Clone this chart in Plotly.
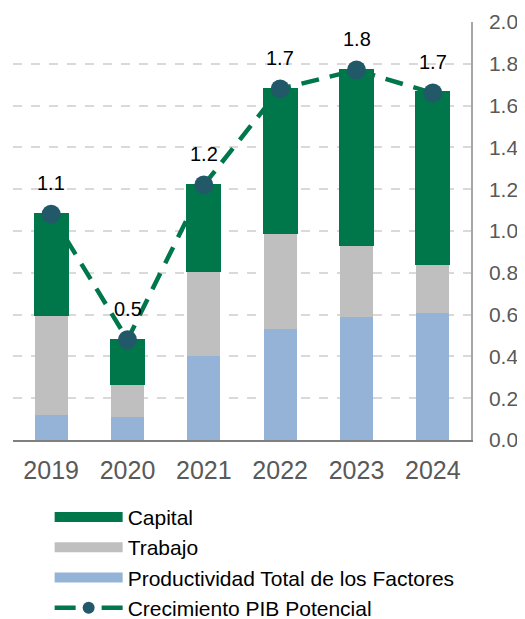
import plotly.graph_objects as go

years = ["2019", "2020", "2021", "2022", "2023", "2024"]
ptf = [0.12, 0.11, 0.40, 0.53, 0.59, 0.61]
trabajo = [0.48, 0.16, 0.41, 0.46, 0.345, 0.23]
capital = [0.48, 0.21, 0.41, 0.69, 0.835, 0.825]
pib = [1.08, 0.48, 1.22, 1.68, 1.77, 1.66]
pib_labels = [f"{v:.1f}" for v in pib]

GREEN = "#00774A"
GRAY = "#BFBFBF"
BLUE = "#95B3D7"
MARK = "#215968"
FONT = "Liberation Sans, Arial, sans-serif"

xpos = list(range(len(years)))

fig = go.Figure()
fig.add_trace(go.Bar(x=xpos, y=ptf, name="Productividad Total de los Factores",
                     marker=dict(color=BLUE, line=dict(width=0)), showlegend=False))
fig.add_trace(go.Bar(x=xpos, y=trabajo, name="Trabajo",
                     marker=dict(color=GRAY, line=dict(width=0)), showlegend=False))
fig.add_trace(go.Bar(x=xpos, y=capital, name="Capital",
                     marker=dict(color=GREEN, line=dict(color=GREEN, width=2)), showlegend=False))
fig.add_trace(go.Scatter(x=xpos, y=pib, name="Crecimiento PIB Potencial", mode="lines+markers",
                         line=dict(color=GREEN, width=4.5, dash="18px,11px"),
                         marker=dict(color=MARK, size=19), showlegend=False))

# legend-only entries (wide swatches like the reference)
for name, color in [("Capital", GREEN), ("Trabajo", GRAY),
                    ("Productividad Total de los Factores", BLUE)]:
    fig.add_trace(go.Scatter(x=[None], y=[None], mode="lines", name=name,
                             line=dict(color=color, width=13)))
fig.add_trace(go.Scatter(x=[None], y=[None], mode="lines+markers", name="Crecimiento PIB Potencial",
                         line=dict(color=GREEN, width=4.5, dash="21px,26px,21px"),
                         marker=dict(color=MARK, size=12)))

for x, y, t in zip(xpos, pib, pib_labels):
    fig.add_annotation(x=x, y=y, text=t, showarrow=False, yshift=31,
                       font=dict(family=FONT, size=20, color="#000000"))

fig.update_layout(
    barmode="stack",
    bargap=0.57,
    width=517, height=611,
    margin=dict(l=5, r=54, t=14, b=179, autoexpand=False),
    plot_bgcolor="white", paper_bgcolor="white",
    font=dict(family=FONT, color="#595959"),
    legend=dict(x=0.08, y=0.2, xanchor="left", yanchor="top", yref="container",
                traceorder="normal",
                font=dict(family=FONT, size=21, color="#000000"),
                itemwidth=68, tracegroupgap=0, bgcolor="rgba(0,0,0,0)"),
    showlegend=True,
)
fig.update_xaxes(range=[-0.5, len(years) - 0.5], tickmode="array", tickvals=xpos, ticktext=years,
                 showline=True, linecolor="#808080", linewidth=1.5,
                 ticks="outside", ticklen=7, tickcolor="rgba(0,0,0,0)",
                 tickfont=dict(size=25, color="#595959"), showgrid=False, zeroline=False)
fig.update_yaxes(side="right", range=[0, 2.0], dtick=0.2, tickformat=".1f",
                 showline=True, linecolor="#A6A6A6", linewidth=1.5,
                 showgrid=True, gridcolor="#D9D9D9", griddash="dash", gridwidth=1.5,
                 ticks="outside", ticklen=12, tickcolor="rgba(0,0,0,0)",
                 tickfont=dict(size=21, color="#595959"), zeroline=False)

fig.write_html("out.html")
